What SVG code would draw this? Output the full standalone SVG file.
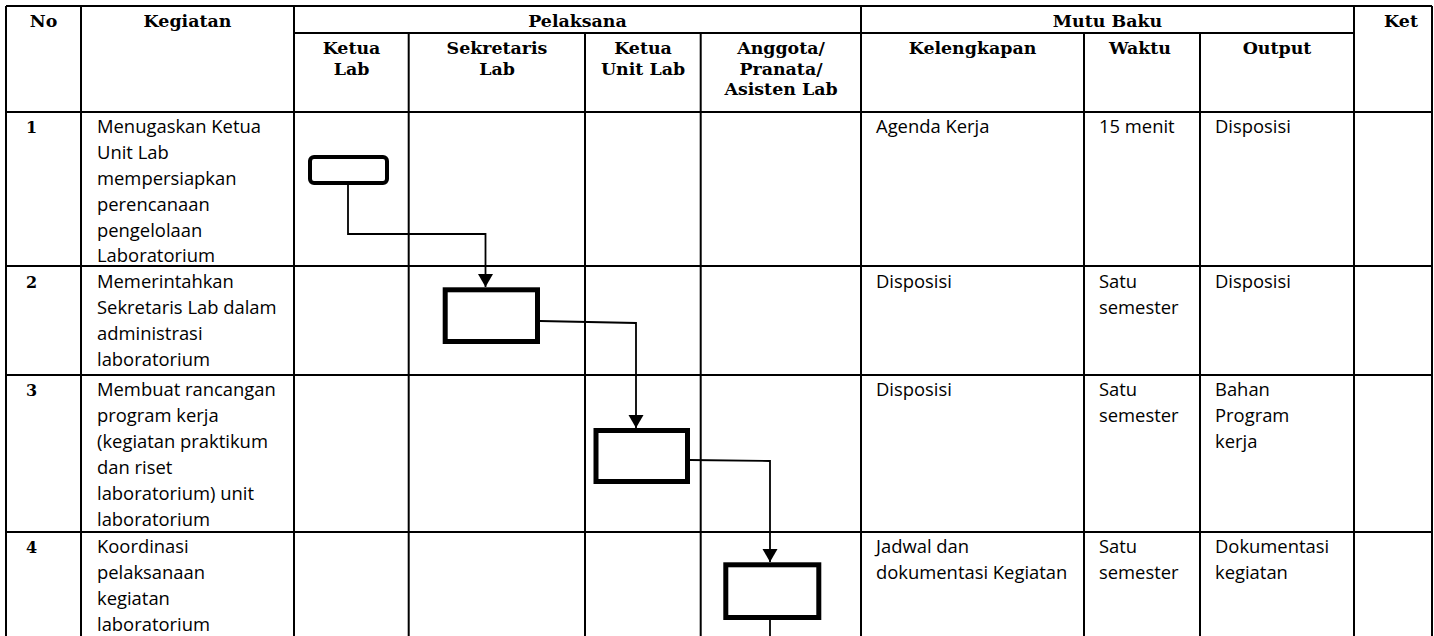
<svg xmlns="http://www.w3.org/2000/svg" width="1434" height="636" viewBox="0 0 1434 636">
<style>
.grid{stroke:#000;stroke-width:2;fill:none}
.hd{font-family:"DejaVu Serif","Liberation Serif",serif;font-weight:bold;font-size:17.4px;text-anchor:middle;fill:#000}
.num{font-family:"DejaVu Serif","Liberation Serif",serif;font-weight:bold;font-size:16px;fill:#000}
.tx{font-family:"Open Sans","Liberation Sans",sans-serif;font-size:18.4px;fill:#000}
.box{fill:#fff;stroke:#000;stroke-width:5}
.conn{fill:none;stroke:#000;stroke-width:1.8}
</style>
<defs>
<marker id="arr" markerUnits="userSpaceOnUse" markerWidth="14" markerHeight="16" refX="13" refY="7.5" orient="auto">
<path d="M0,0 L13,7.5 L0,15 Z" fill="#000"/>
</marker>
</defs>
<rect width="1434" height="636" fill="#fff"/>
<g id="table">
<path class="grid" d="M6,6 H1432 M294,33 H1354 M6,112 H1432 M6,266 H1432 M6,375 H1432 M6,532 H1432
M6,6 V636 M81,6 V636 M294,6 V636 M861,6 V636 M1354,6 V636 M1432,6 V636
M408.7,33 V636 M585,33 V636 M700.7,33 V636 M1084,33 V636 M1200,33 V636"/>
</g>
<g id="header">
<text class="hd" x="43.5" y="26.5">No</text>
<text class="hd" x="187.5" y="26.5">Kegiatan</text>
<text class="hd" x="577.5" y="26.5">Pelaksana</text>
<text class="hd" x="1107.5" y="26.5">Mutu Baku</text>
<text class="hd" x="1401" y="26.5">Ket</text>
<text class="hd" x="351.5" y="54">Ketua</text>
<text class="hd" x="351.5" y="74.5">Lab</text>
<text class="hd" x="497" y="54">Sekretaris</text>
<text class="hd" x="497" y="74.5">Lab</text>
<text class="hd" x="643" y="54">Ketua</text>
<text class="hd" x="643" y="74.5">Unit Lab</text>
<text class="hd" x="781" y="54">Anggota/</text>
<text class="hd" x="781" y="74.5">Pranata/</text>
<text class="hd" x="781" y="95">Asisten Lab</text>
<text class="hd" x="972.5" y="54">Kelengkapan</text>
<text class="hd" x="1140" y="54">Waktu</text>
<text class="hd" x="1277" y="54">Output</text>
</g>
<g id="row1">
<text class="num" x="26" y="133">1</text>
<text class="tx" x="97" y="133">Menugaskan Ketua</text>
<text class="tx" x="97" y="159">Unit Lab</text>
<text class="tx" x="97" y="185">mempersiapkan</text>
<text class="tx" x="97" y="211">perencanaan</text>
<text class="tx" x="97" y="237">pengelolaan</text>
<text class="tx" x="97" y="262">Laboratorium</text>
<text class="tx" x="876" y="133">Agenda Kerja</text>
<text class="tx" x="1099" y="133">15 menit</text>
<text class="tx" x="1215" y="133">Disposisi</text>
</g>
<g id="row2">
<text class="num" x="26" y="288">2</text>
<text class="tx" x="97" y="288">Memerintahkan</text>
<text class="tx" x="97" y="314">Sekretaris Lab dalam</text>
<text class="tx" x="97" y="340">administrasi</text>
<text class="tx" x="97" y="366">laboratorium</text>
<text class="tx" x="876" y="288">Disposisi</text>
<text class="tx" x="1099" y="288">Satu</text>
<text class="tx" x="1099" y="314">semester</text>
<text class="tx" x="1215" y="288">Disposisi</text>
</g>
<g id="row3">
<text class="num" x="26" y="396">3</text>
<text class="tx" x="97" y="396">Membuat rancangan</text>
<text class="tx" x="97" y="422">program kerja</text>
<text class="tx" x="97" y="448">(kegiatan praktikum</text>
<text class="tx" x="97" y="474">dan riset</text>
<text class="tx" x="97" y="500">laboratorium) unit</text>
<text class="tx" x="97" y="526">laboratorium</text>
<text class="tx" x="876" y="396">Disposisi</text>
<text class="tx" x="1099" y="396">Satu</text>
<text class="tx" x="1099" y="422">semester</text>
<text class="tx" x="1215" y="396">Bahan</text>
<text class="tx" x="1215" y="422">Program</text>
<text class="tx" x="1215" y="448">kerja</text>
</g>
<g id="row4">
<text class="num" x="26" y="553">4</text>
<text class="tx" x="97" y="553">Koordinasi</text>
<text class="tx" x="97" y="579">pelaksanaan</text>
<text class="tx" x="97" y="605">kegiatan</text>
<text class="tx" x="97" y="631">laboratorium</text>
<text class="tx" x="876" y="553">Jadwal dan</text>
<text class="tx" x="876" y="579">dokumentasi Kegiatan</text>
<text class="tx" x="1099" y="553">Satu</text>
<text class="tx" x="1099" y="579">semester</text>
<text class="tx" x="1215" y="553">Dokumentasi</text>
<text class="tx" x="1215" y="579">kegiatan</text>
</g>
<g id="connectors">
<polyline class="conn" points="348,185 348,234 485.5,234 485.5,287" marker-end="url(#arr)"/>
<polyline class="conn" points="540,321 636,323 636,428" marker-end="url(#arr)"/>
<polyline class="conn" points="690,460 770,461 770,562" marker-end="url(#arr)"/>
<line class="conn" x1="770" y1="620" x2="770" y2="636"/>
</g>
<g id="box1">
<rect x="310" y="157" width="77" height="26" rx="4" ry="4" fill="#fff" stroke="#000" stroke-width="4"/>
</g>
<g id="box2">
<rect class="box" x="445.2" y="289.8" width="92.3" height="51.7"/>
</g>
<g id="box3">
<rect class="box" x="596" y="430.5" width="91.5" height="51"/>
</g>
<g id="box4">
<rect class="box" x="725.8" y="564.8" width="93" height="52.7"/>
</g>
</svg>
